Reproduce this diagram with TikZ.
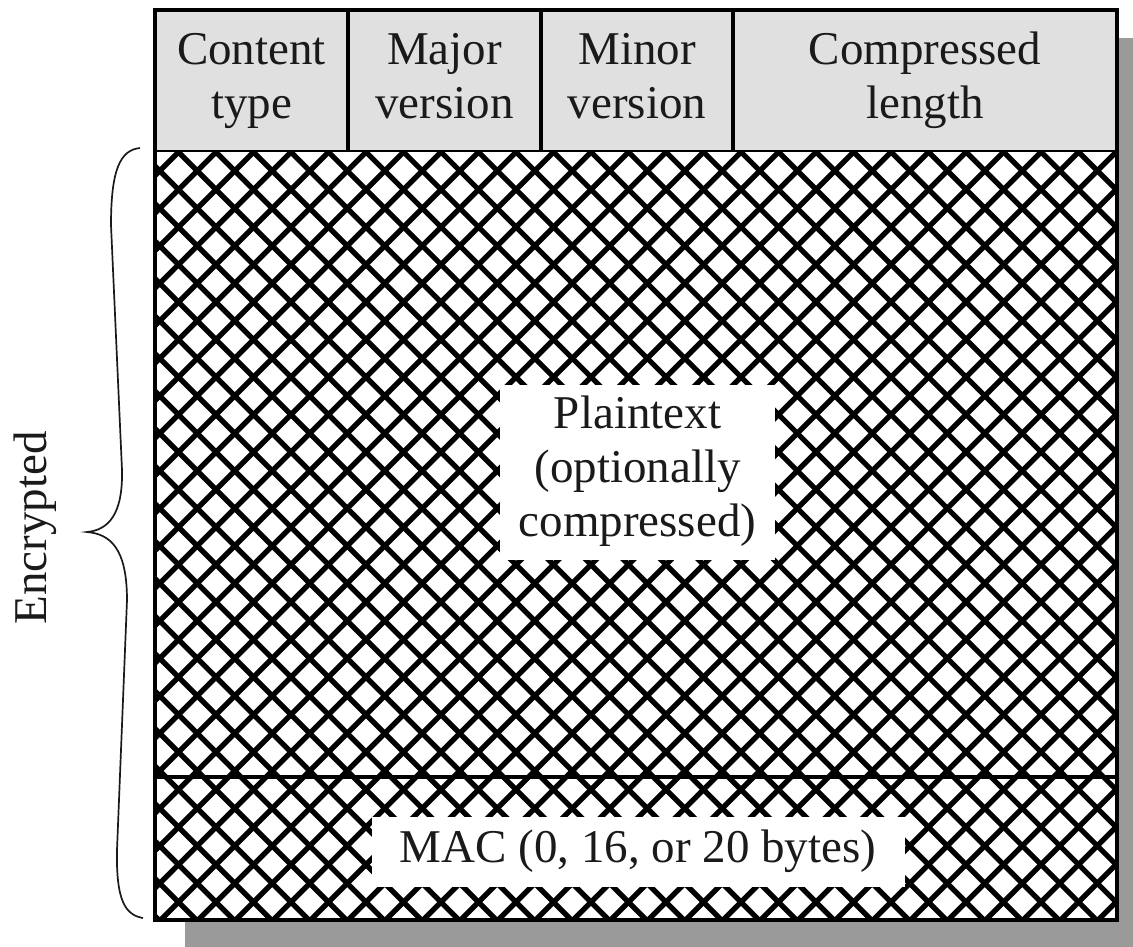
\documentclass[tikz,border=0pt]{standalone}
\usepackage{fontspec}
\setmainfont{Liberation Serif}
\definecolor{hdr}{HTML}{E0E0E0}
\definecolor{shadowgray}{HTML}{9A9A9A}
\definecolor{ink}{HTML}{1A1A1A}
\newcommand{\lstrut}{\vrule width0pt height37.8pt depth16.2pt\relax}
\begin{document}
\begin{tikzpicture}[x=1pt,y=-1pt,
  lbl/.style={font=\fontsize{47}{54}\selectfont, text=ink, align=center, inner sep=0pt},
  cell/.style={draw=black, line width=3.5pt, fill=hdr, minimum height=142pt, inner sep=0pt},
  hatchline/.style={line width=5.3pt, black},
  blank/.style={fill=white, inner sep=0pt},
  frame/.style={line width=4.5pt, black},
  divider/.style={line width=4pt, black},
  bracepath/.style={line width=1.7pt, ink}]
\useasboundingbox (0,0) rectangle (1133,946);
% shadow
\fill[shadowgray] (185,38) rectangle (1150,950);
% header cells
\node[cell, lbl, minimum width=193pt] (ct) at (251.5,81) {\lstrut Content\\\lstrut type};
\node[cell, lbl, minimum width=193pt] (maj) at (444.5,81) {\lstrut Major\\\lstrut version};
\node[cell, lbl, minimum width=192pt] (min) at (637,81) {\lstrut Minor\\\lstrut version};
\node[cell, lbl, minimum width=384pt] (len) at (925,81) {\lstrut Compressed\\\lstrut length};
% hatched body
\coordinate (bodytl) at (155,152);
\coordinate (bodybr) at (1117,920);
\begin{scope}
  \clip (bodytl) rectangle (bodybr);
  \fill[white] (bodytl) rectangle (bodybr);
  \foreach \k in {-22,...,48} {
    \draw[hatchline] ({141+37.5*\k},152) -- ++(780,780);
    \draw[hatchline] ({141+37.5*\k},152) -- ++(-780,780);
  }
\end{scope}
% MAC divider
\coordinate (macl) at (155,777);
\coordinate (macr) at (1117,777);
\draw[divider] (macl) -- (macr);
% labels
\node[blank, lbl, minimum width=275pt, minimum height=175pt] (plain) at (637.5,472) {\lstrut Plaintext\\\lstrut (optionally\\\lstrut compressed)};
\node[blank, lbl, minimum width=533pt, minimum height=70pt] (mac) at (638,852) {\lstrut MAC (0, 16, or 20 bytes)};
% outer frame
\coordinate (frtl) at (155,10);
\draw[frame] (frtl) rectangle (bodybr);
% brace
\coordinate (bt) at (140,148);
\coordinate (btip) at (87,532);
\coordinate (bb) at (143,918);
\draw[bracepath] (bt) .. controls (120,150) and (111,170) .. (111,225)
  -- (122,470) .. controls (123,515) and (108,530) .. (btip)
  .. controls (110,534) and (127,548) .. (127,600)
  -- (117,850) .. controls (116,900) and (125,915) .. (bb);
\node[lbl, rotate=90] (enc) at (35,528) {Encrypted};
\end{tikzpicture}
\end{document}
